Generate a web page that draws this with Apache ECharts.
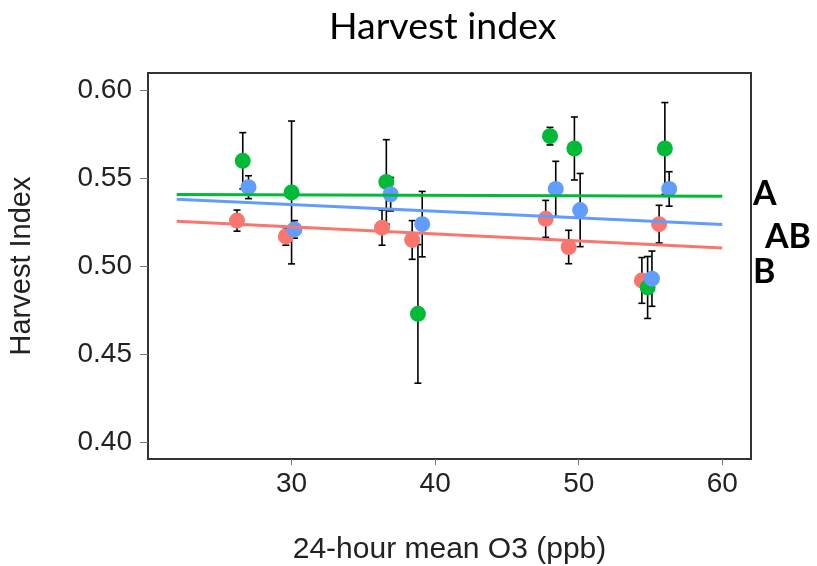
<!DOCTYPE html>
<html>
<head>
<meta charset="utf-8">
<script src="https://cdn.jsdelivr.net/npm/echarts@6/dist/echarts.min.js"></script>
<style>
html, body { margin: 0; padding: 0; background: #fff; }
#main { width: 817px; height: 566px; }
</style>
</head>
<body>
<div id="main"></div>
<script>
// axis ticks
var xTicks = [30, 40, 50, 60];
var yTicks = [0.40, 0.45, 0.50, 0.55, 0.60];

// red group
var redX = [26.2, 29.6, 36.3, 38.4, 47.7, 49.3, 54.4, 55.6];
var redY = [0.526, 0.517, 0.522, 0.515, 0.527, 0.511, 0.492, 0.524];
var redErr = [0.006, 0.005, 0.010, 0.011, 0.0105, 0.0095, 0.013, 0.0107];

// blue group
var blueX = [27.0, 30.2, 36.9, 39.1, 48.4, 50.1, 55.1, 56.3];
var blueY = [0.545, 0.521, 0.541, 0.524, 0.544, 0.532, 0.493, 0.544];
var blueErr = [0.0065, 0.005, 0.0095, 0.0186, 0.0157, 0.0208, 0.0157, 0.0098];

// green group
var greenX = [26.6, 30.0, 36.6, 38.8, 48.0, 49.7, 54.8, 56.0];
var greenY = [0.560, 0.542, 0.548, 0.473, 0.574, 0.567, 0.488, 0.567];
var greenErr = [0.016, 0.0406, 0.024, 0.0394, 0.005, 0.0179, 0.0176, 0.0261];

// fitted lines
var fitX = [22, 60];
var redFit = [0.5257, 0.5105];
var blueFit = [0.5382, 0.5238];
var greenFit = [0.5408, 0.5399];

// letters on the right
var groupLetters = ['A', 'AB', 'B'];

var RED = '#F8766D', GREEN = '#00BA38', BLUE = '#619CFF';

function pts(xs, ys) {
	return xs.map(function(x, i) { return [x, ys[i]]; });
}
function bars(xs, ys, es) {
	return xs.map(function(x, i) { return [x, ys[i] - es[i], ys[i] + es[i]]; });
}

var errData = bars(redX, redY, redErr)
	.concat(bars(greenX, greenY, greenErr))
	.concat(bars(blueX, blueY, blueErr));

var chart = echarts.init(document.getElementById('main'));
var labelFont = 'Liberation Sans, Arial, sans-serif';

var option = {
	animation: false,
	title: {
		text: 'Harvest index',
		left: 324,
		top: 3,
		textStyle: { fontFamily: 'Lato', fontSize: 37.5, fontWeight: 'normal', color: '#000' }
	},
	grid: {
		left: 148, right: 66, top: 73, bottom: 107,
		outerBoundsMode: 'none',
		show: true, borderColor: '#333', borderWidth: 2, backgroundColor: '#fff'
	},
	xAxis: {
		type: 'value', min: 20, max: 62,
		name: '24-hour mean O3 (ppb)', nameLocation: 'middle', nameGap: 76,
		nameTextStyle: { fontFamily: labelFont, fontSize: 30, color: '#222' },
		axisLine: { show: false },
		axisTick: { show: true, length: 6, customValues: xTicks, lineStyle: { color: '#777' } },
		axisLabel: { customValues: xTicks, margin: 11, fontFamily: labelFont, fontSize: 28, color: '#222' },
		splitLine: { show: false }
	},
	yAxis: {
		type: 'value', min: 0.3905, max: 0.6099,
		name: 'Harvest Index', nameLocation: 'middle', nameGap: 112, nameRotate: 90,
		nameTextStyle: { fontFamily: labelFont, fontSize: 29, color: '#222' },
		axisLine: { show: false },
		axisTick: { show: true, length: 8, customValues: yTicks, lineStyle: { color: '#777' } },
		axisLabel: {
			customValues: yTicks, margin: 16, fontFamily: labelFont, fontSize: 28, color: '#222',
			formatter: function(v) { return v.toFixed(2); }
		},
		splitLine: { show: false }
	},
	graphic: [
		{ type: 'text', left: 753, top: 177, style: { text: groupLetters[0], font: 'bold 34px Lato', fill: '#000' } },
		{ type: 'text', left: 765, top: 220, style: { text: groupLetters[1], font: 'bold 34px Lato', fill: '#000' } },
		{ type: 'text', left: 753, top: 255, style: { text: groupLetters[2], font: 'bold 34px Lato', fill: '#000' } }
	],
	series: [
		{ type: 'line', data: pts(fitX, redFit), symbol: 'none', lineStyle: { color: RED, width: 3 } },
		{ type: 'line', data: pts(fitX, blueFit), symbol: 'none', lineStyle: { color: BLUE, width: 3 } },
		{ type: 'line', data: pts(fitX, greenFit), symbol: 'none', lineStyle: { color: GREEN, width: 3 } },
		{ type: 'scatter', data: pts(redX, redY), symbolSize: 16, itemStyle: { color: RED, opacity: 1 } },
		{ type: 'scatter', data: pts(greenX, greenY), symbolSize: 16, itemStyle: { color: GREEN, opacity: 1 } },
		{ type: 'scatter', data: pts(blueX, blueY), symbolSize: 16, itemStyle: { color: BLUE, opacity: 1 } },
		{
			type: 'custom',
			data: errData,
			encode: { x: 0, y: [1, 2] },
			renderItem: function(params, api) {
				var lo = api.coord([api.value(0), api.value(1)]);
				var hi = api.coord([api.value(0), api.value(2)]);
				var w = 3.5;
				var st = { stroke: '#000', lineWidth: 1.6 };
				return {
					type: 'group',
					children: [
						{ type: 'line', shape: { x1: lo[0], y1: lo[1], x2: hi[0], y2: hi[1] }, style: st },
						{ type: 'line', shape: { x1: lo[0] - w, y1: lo[1], x2: lo[0] + w, y2: lo[1] }, style: st },
						{ type: 'line', shape: { x1: hi[0] - w, y1: hi[1], x2: hi[0] + w, y2: hi[1] }, style: st }
					]
				};
			}
		}
	]
};
chart.setOption(option);
</script>
</body>
</html>
